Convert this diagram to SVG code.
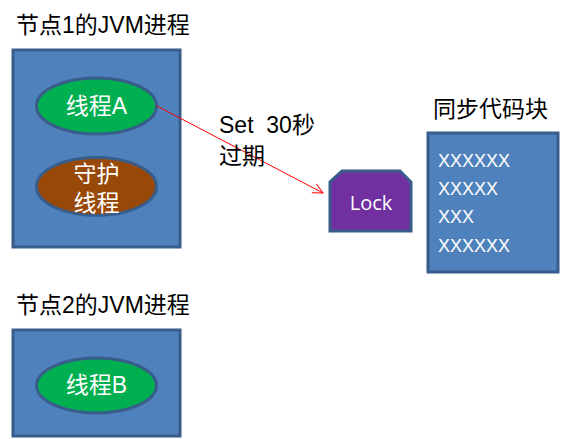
<svg xmlns="http://www.w3.org/2000/svg" width="567" height="439" viewBox="0 0 567 439">
<defs>
<style>
.box{fill:#4F81BD;stroke:#385D8A;stroke-width:3}
.title{font-family:"Liberation Sans","Noto Sans CJK SC",sans-serif;font-size:23px;fill:#000}
.wt{font-family:"Liberation Sans","Noto Sans CJK SC",sans-serif;font-size:23px;fill:#fff;text-anchor:middle}
.code{font-family:"Liberation Sans",sans-serif;font-size:18px;fill:#fff}
</style>
<marker id="arr" viewBox="0 0 12 12" refX="11" refY="6" markerWidth="12" markerHeight="12" markerUnits="userSpaceOnUse" orient="auto">
<path d="M1,1 L11,6 L1,11" fill="none" stroke="#FF0000" stroke-width="1"/>
</marker>
</defs>
<rect width="567" height="439" fill="#fff"/>
<g id="node1">
<text class="title" x="16" y="33">节点1的JVM进程</text>
<rect class="box" x="13" y="50" width="167" height="197"/>
</g>
<g id="threadA">
<ellipse cx="96.5" cy="106" rx="60" ry="28" fill="#00B050" stroke="#385D8A" stroke-width="3"/>
<text class="wt" x="96.5" y="114">线程A</text>
</g>
<g id="daemon">
<ellipse cx="96.5" cy="186.5" rx="60" ry="29" fill="#984807" stroke="#385D8A" stroke-width="3"/>
<text class="wt" x="96.5" y="182">守护</text>
<text class="wt" x="96.5" y="211">线程</text>
</g>
<g id="node2">
<text class="title" x="16" y="313">节点2的JVM进程</text>
<rect class="box" x="13" y="330" width="167" height="106"/>
</g>
<g id="threadB">
<ellipse cx="96.5" cy="385.5" rx="60" ry="27.5" fill="#00B050" stroke="#385D8A" stroke-width="3"/>
<text class="wt" x="96.5" y="393">线程B</text>
</g>
<g id="lock">
<path d="M342,171 L400,171 L411,182 L411,231 L330,231 L330,182 Z" fill="#7030A0" stroke="#385D8A" stroke-width="3"/>
<text x="371" y="210" font-family="'Open Sans','Liberation Sans',sans-serif" font-size="20" fill="#fff" text-anchor="middle">Lock</text>
</g>
<g id="codeblock">
<text class="title" x="433" y="117">同步代码块</text>
<rect class="box" x="428" y="133" width="130" height="139"/>
<text class="code" x="438" y="167">XXXXXX</text>
<text class="code" x="438" y="195">XXXXX</text>
<text class="code" x="438" y="223">XXX</text>
<text class="code" x="438" y="252">XXXXXX</text>
</g>
<g id="connectors">
<line x1="157" y1="106" x2="323" y2="193" stroke="#FF0000" stroke-width="1" marker-end="url(#arr)"/>
<text class="title" x="219" y="133" xml:space="preserve">Set  30秒</text>
<text class="title" x="219" y="164">过期</text>
</g>
</svg>
